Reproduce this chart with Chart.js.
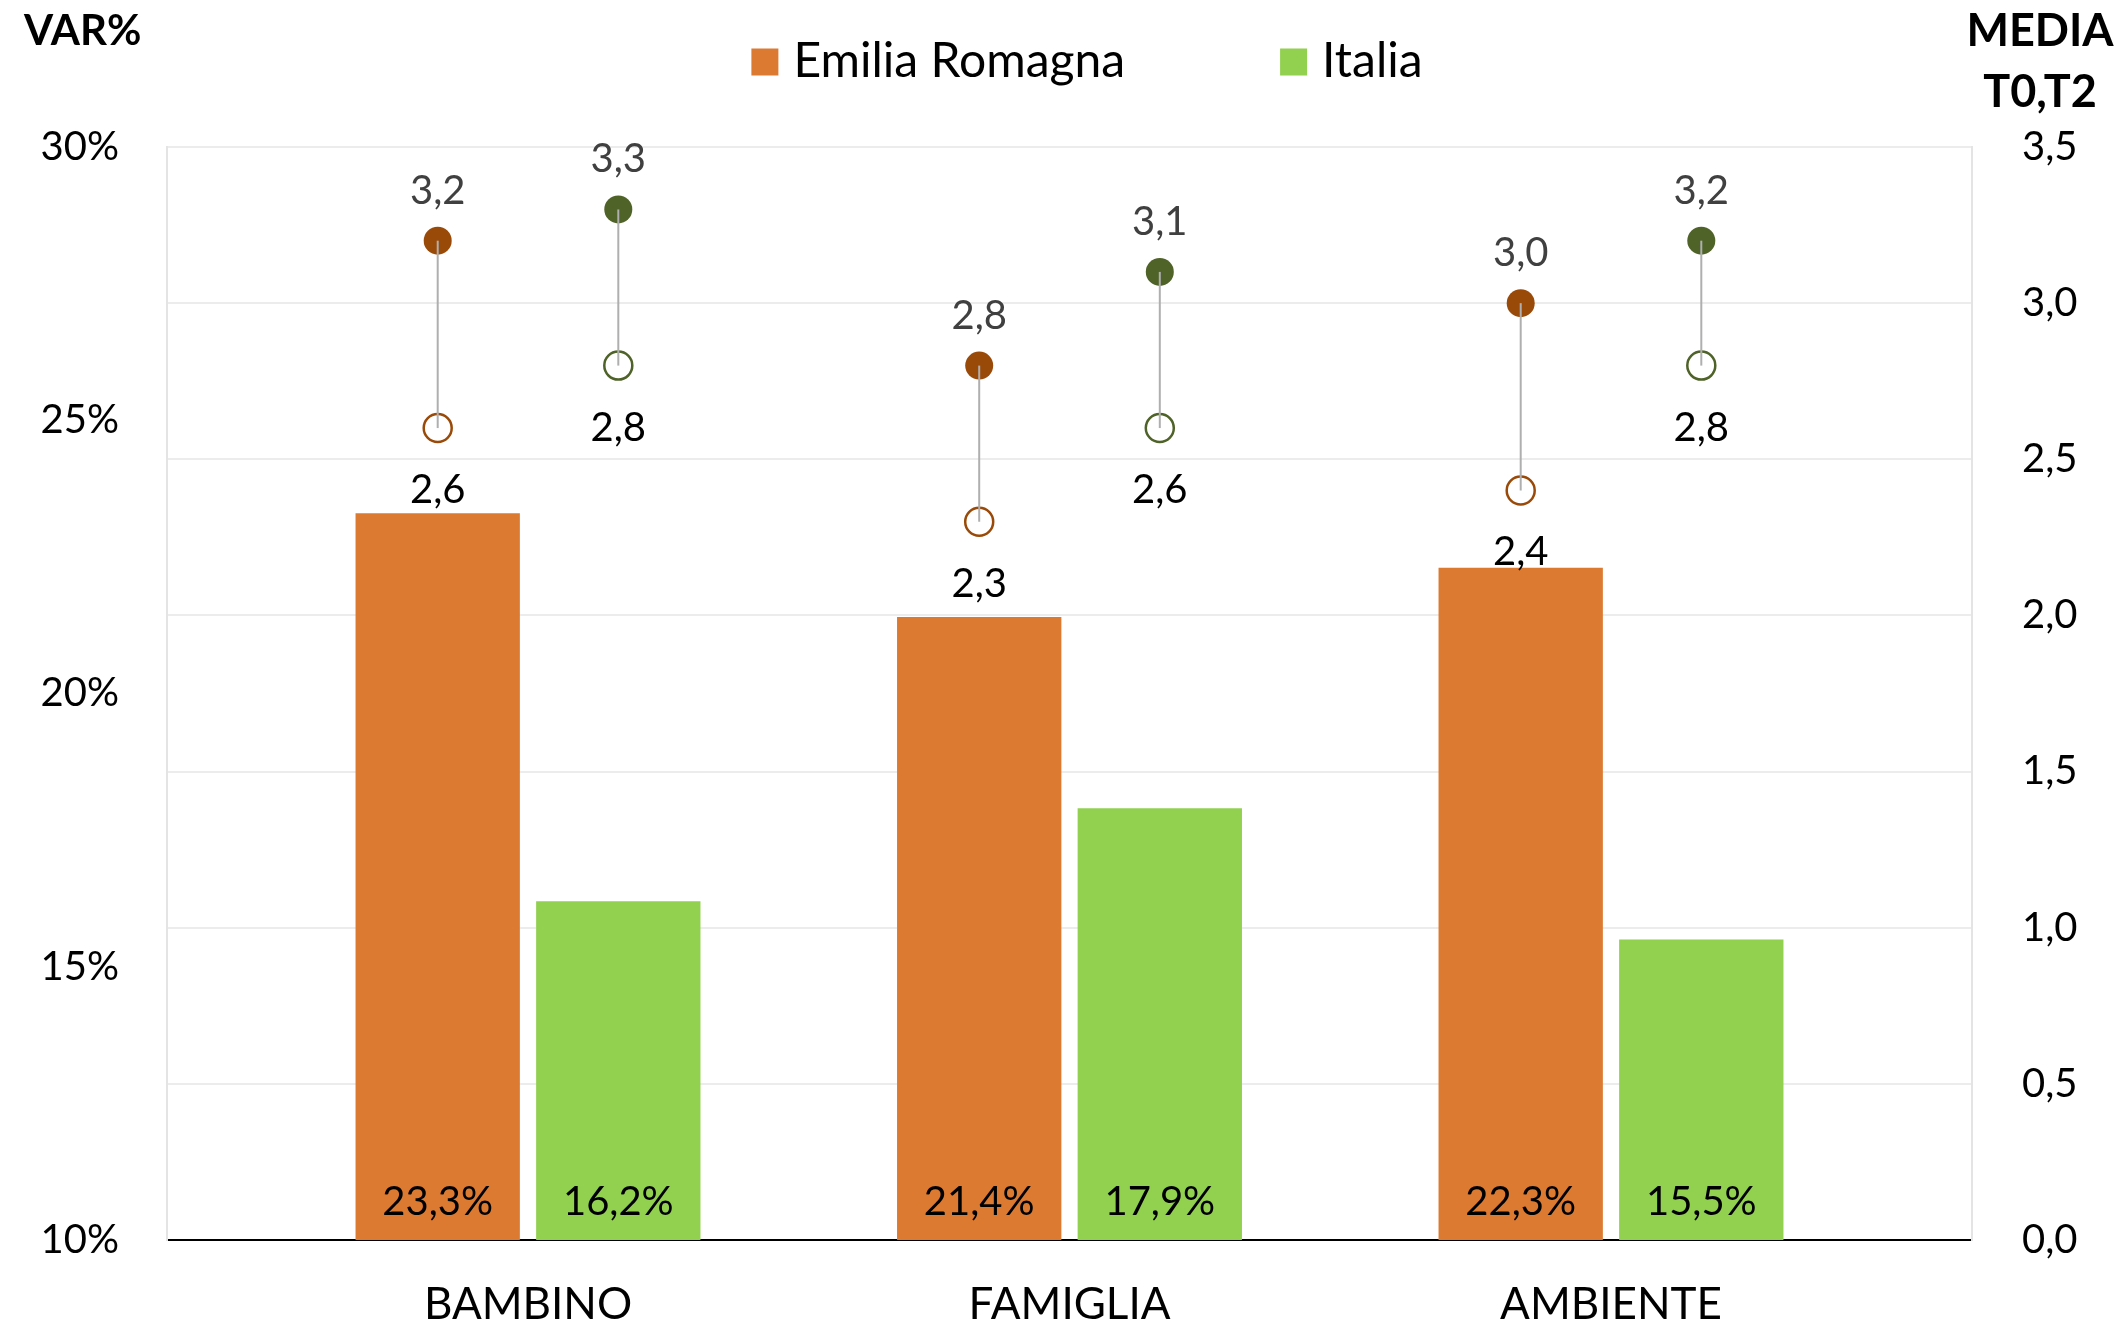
<!DOCTYPE html>
<html>
<head>
<meta charset="utf-8">
<script src="https://cdn.jsdelivr.net/npm/chart.js@4.4.1/dist/chart.umd.min.js"></script>
<style>
  html, body { margin: 0; padding: 0; background: #ffffff; }
  #wrap { width: 2128px; height: 1329px; }
</style>
</head>
<body>
<div id="wrap"><canvas id="chart" width="2128" height="1329"></canvas></div>
<script>
// Categories and series
const categories = ['BAMBINO', 'FAMIGLIA', 'AMBIENTE'];
const seriesNames = ['Emilia Romagna', 'Italia'];

// Percentage change (left axis)
const varER = [23.3, 21.4, 22.3];
const varIT = [16.2, 17.9, 15.5];

// Mean scores at T0 and T2 (right axis)
const mediaT0ER = [2.6, 2.3, 2.4];
const mediaT2ER = [3.2, 2.8, 3.0];
const mediaT0IT = [2.8, 2.6, 2.8];
const mediaT2IT = [3.3, 3.1, 3.2];

// Axis tick values
const varTicks = [10, 15, 20, 25, 30];
const mediaTicks = [0, 0.5, 1, 1.5, 2, 2.5, 3, 3.5];

// Titles
const leftTitle = 'VAR%';
const rightTitle = ['MEDIA', 'T0,T2'];

const FONT = 'Lato, "Open Sans", sans-serif';
const COLORS = {
  barER: '#DD7A32',
  barIT: '#92D050',
  dotER: '#9A4A08',
  dotIT: '#4F6228',
  stem: '#AFAFAF'
};

const fmt1 = v => v.toFixed(1).replace('.', ',');
const sidePad = 2 / 3; // extra room on each side of the outer categories

const toPoints = arr => arr.map((v, i) => ({ x: i, y: v }));
const toRanges = (a, b) => a.map((v, i) => ({ x: i, y: [v, b[i]] }));

const datasets = [
  {
    type: 'bar', label: seriesNames[0], role: 'var',
    data: toPoints(varER), backgroundColor: COLORS.barER,
    stack: 'er', yAxisID: 'y', base: varTicks[0],
    categoryPercentage: 0.667, barPercentage: 0.91
  },
  {
    type: 'bar', label: seriesNames[1], role: 'var',
    data: toPoints(varIT), backgroundColor: COLORS.barIT,
    stack: 'it', yAxisID: 'y', base: varTicks[0],
    categoryPercentage: 0.667, barPercentage: 0.91
  },
  {
    type: 'bar', label: seriesNames[0] + ' media', role: 'media',
    data: toRanges(mediaT0ER, mediaT2ER), backgroundColor: COLORS.stem,
    markerColor: COLORS.dotER,
    stack: 'er', yAxisID: 'y1',
    categoryPercentage: 0.667, barPercentage: 1, maxBarThickness: 2
  },
  {
    type: 'bar', label: seriesNames[1] + ' media', role: 'media',
    data: toRanges(mediaT0IT, mediaT2IT), backgroundColor: COLORS.stem,
    markerColor: COLORS.dotIT,
    stack: 'it', yAxisID: 'y1',
    categoryPercentage: 0.667, barPercentage: 1, maxBarThickness: 2
  }
];

// Markers, value labels, legend and axis titles
const overlay = {
  id: 'overlay',
  beforeDatasetsDraw(chart) {
    const ctx = chart.ctx;
    const y1 = chart.scales.y1;
    chart.data.datasets.forEach((ds, di) => {
      if (ds.role !== 'media') return;
      chart.getDatasetMeta(di).data.forEach((el, i) => {
        const [t0, t2] = ds.data[i].y;
        ctx.save();
        ctx.beginPath();
        ctx.arc(el.x, y1.getPixelForValue(t0), 14, 0, Math.PI * 2);
        ctx.fillStyle = '#ffffff';
        ctx.fill();
        ctx.lineWidth = 2.5;
        ctx.strokeStyle = ds.markerColor;
        ctx.stroke();
        ctx.beginPath();
        ctx.arc(el.x, y1.getPixelForValue(t2), 14, 0, Math.PI * 2);
        ctx.fillStyle = ds.markerColor;
        ctx.fill();
        ctx.restore();
      });
    });
  },
  afterDatasetsDraw(chart) {
    const ctx = chart.ctx;
    const y = chart.scales.y;
    const y1 = chart.scales.y1;
    ctx.save();
    ctx.textAlign = 'center';
    ctx.textBaseline = 'middle';
    ctx.font = '40px ' + FONT;
    chart.data.datasets.forEach((ds, di) => {
      chart.getDatasetMeta(di).data.forEach((el, i) => {
        if (ds.role === 'var') {
          ctx.fillStyle = '#000000';
          ctx.fillText(fmt1(ds.data[i].y) + '%', el.x, y.getPixelForValue(y.min) - 38);
        } else {
          const [t0, t2] = ds.data[i].y;
          ctx.fillStyle = '#404040';
          ctx.fillText(fmt1(t2), el.x, y1.getPixelForValue(t2) - 50);
          ctx.fillStyle = '#000000';
          ctx.fillText(fmt1(t0), el.x, y1.getPixelForValue(t0) + 62);
        }
      });
    });
    ctx.restore();
  },
  afterDraw(chart) {
    const ctx = chart.ctx;
    ctx.save();
    // legend
    const items = chart.data.datasets.filter(d => d.role === 'var');
    const box = 27, textGap = 15, itemGap = 155, legendY = 62, legendCenter = 1087;
    ctx.font = '48px ' + FONT;
    const widths = items.map(d => box + textGap + ctx.measureText(d.label).width);
    const total = widths.reduce((a, b) => a + b, 0) + itemGap * (items.length - 1);
    let x = legendCenter - total / 2;
    ctx.textBaseline = 'middle';
    ctx.textAlign = 'left';
    items.forEach((d, i) => {
      ctx.fillStyle = d.backgroundColor;
      ctx.fillRect(x, legendY - box / 2, box, box);
      ctx.fillStyle = '#000000';
      ctx.fillText(d.label, x + box + textGap, legendY);
      x += widths[i] + itemGap;
    });
    // axis titles
    ctx.fillStyle = '#000000';
    ctx.font = 'bold 42px ' + FONT;
    ctx.textAlign = 'left';
    ctx.fillText(leftTitle, 24, 31);
    ctx.font = 'bold 45px ' + FONT;
    ctx.textAlign = 'center';
    ctx.fillText(rightTitle[0], 2040, 31);
    ctx.fillText(rightTitle[1], 2040, 92);
    ctx.restore();
  }
};

new Chart(document.getElementById('chart'), {
  type: 'bar',
  data: { datasets },
  options: {
    responsive: false,
    animation: false,
    events: [],
    layout: { padding: { top: 147, left: 0, right: 0, bottom: 0 } },
    plugins: {
      legend: { display: false },
      tooltip: { enabled: false },
      title: { display: false }
    },
    scales: {
      x: {
        type: 'linear',
        offset: false,
        min: -sidePad,
        max: categories.length - 1 + sidePad,
        grid: { display: false, drawTicks: false, offset: false },
        border: { display: true, color: '#000000', width: 2 },
        afterBuildTicks: s => { s.ticks = categories.map((c, i) => ({ value: i })); },
        afterFit: s => { s.height = 89; },
        ticks: {
          autoSkip: false,
          maxRotation: 0,
          padding: 38,
          color: '#000000',
          font: { family: FONT, size: 44 },
          callback: v => categories[v]
        }
      },
      y: {
        position: 'left',
        min: varTicks[0],
        max: varTicks[varTicks.length - 1],
        stacked: false,
        grid: { display: false, drawTicks: false },
        border: { display: true, color: '#E4E4E4', width: 2 },
        afterFit: s => { s.width = 167; },
        ticks: {
          stepSize: varTicks[1] - varTicks[0],
          padding: 48,
          color: '#000000',
          font: { family: FONT, size: 40 },
          callback: v => v + '%'
        }
      },
      y1: {
        position: 'right',
        min: mediaTicks[0],
        max: mediaTicks[mediaTicks.length - 1],
        stacked: false,
        grid: { display: true, color: '#ECECEC', lineWidth: 2, drawTicks: false },
        border: { display: true, color: '#E4E4E4', width: 2 },
        afterFit: s => { s.width = 156; },
        ticks: {
          stepSize: mediaTicks[1] - mediaTicks[0],
          padding: 50,
          color: '#000000',
          font: { family: FONT, size: 40 },
          callback: v => fmt1(v)
        }
      }
    }
  },
  plugins: [overlay]
});
</script>
</body>
</html>
